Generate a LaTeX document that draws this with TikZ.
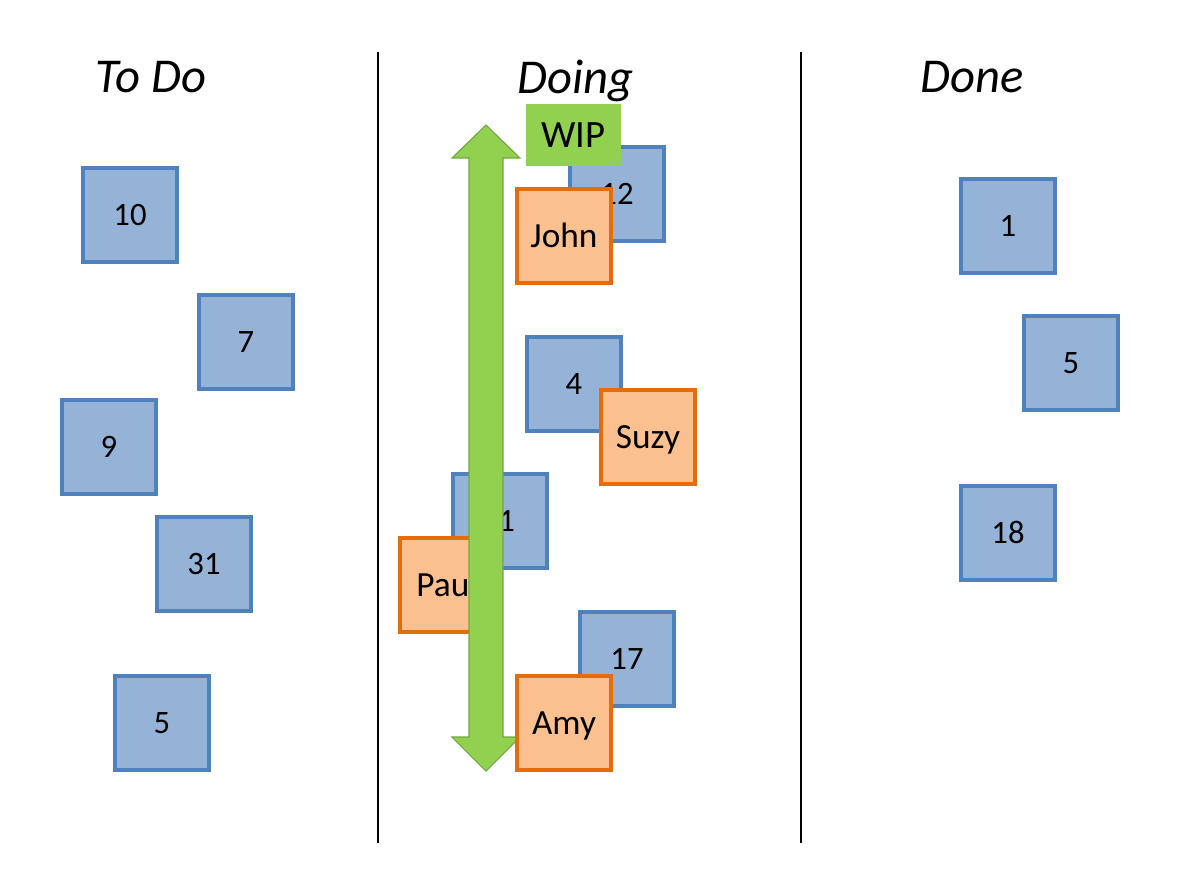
\documentclass[tikz,border=0pt]{standalone}
\usepackage{fontspec}
\setmainfont{Carlito}
\definecolor{taskfill}{HTML}{95B3D7}
\definecolor{taskline}{HTML}{4F81BD}
\definecolor{personfill}{HTML}{FAC090}
\definecolor{personline}{HTML}{E46C0A}
\definecolor{wipgreen}{HTML}{92D050}
\definecolor{wipline}{HTML}{71A840}
\tikzset{
  card/.style={line width=2.3pt, minimum size=70.5pt, inner sep=0pt, text depth=0pt},
  task/.style={card, draw=taskline, fill=taskfill, text height=15.8pt, font=\fontsize{24.5}{28}\selectfont},
  person/.style={card, draw=personline, fill=personfill, text height=17pt, font=\fontsize{26.5}{30}\selectfont},
  header/.style={font=\fontsize{36.5}{42}\selectfont\itshape, text height=23.5pt, text depth=0pt},
  divider/.style={line width=2.2pt, black},
  wiplabel/.style={fill=wipgreen, minimum width=71pt, minimum height=46.5pt, inner sep=0pt, text height=18.7pt, text depth=0pt, font=\fontsize{29}{34}\selectfont},
  wiparrow/.style={fill=wipgreen, draw=wipline, line width=0.8pt}
}
\begin{document}
\begin{tikzpicture}[x=0.75pt, y=-0.75pt]
\useasboundingbox (0,0) rectangle (1178,869);
% dividers
\coordinate (d1top) at (378,52);
\coordinate (d1bot) at (378,843);
\coordinate (d2top) at (801,52);
\coordinate (d2bot) at (801,843);
\draw[divider] (d1top) -- (d1bot);
\draw[divider] (d2top) -- (d2bot);
% headers
\node[header] (htodo) at (151,77) {To Do};
\node[header] (hdoing) at (576,78) {Doing};
\node[header] (hdone) at (972,77) {Done};
% To Do
\node[task] (t10) at (130,215) {10};
\node[task] (t7) at (246,342) {7};
\node[task] (t9) at (109,447) {9};
\node[task] (t31) at (204,564) {31};
\node[task] (t5) at (162,723) {5};
% Doing tasks
\node[task] (t12) at (617,194) {12};
\node[task] (t4) at (574,384) {4};
\node[task] (t1) at (500,521) {\hspace*{10pt}1};
\node[task] (t17) at (627,659) {17};
% Done
\node[task] (d1) at (1008,226) {1};
\node[task] (d5) at (1071,363) {5};
\node[task] (d18) at (1008,533) {18};
% people behind arrow
\node[person] (paul) at (447,585) {Paul};
% WIP arrow
\draw[wiparrow] (486,125) -- (520,158) -- (503,158) -- (503,737) -- (520,737) -- (486,771)
  -- (452,737) -- (469,737) -- (469,158) -- (452,158) -- cycle;
% people in front
\node[person] (john) at (564,236) {John};
\node[person] (suzy) at (648,437) {Suzy};
\node[person] (amy) at (564,723) {Amy};
\node[wiplabel] (wip) at (573.5,135) {WIP};
\end{tikzpicture}
\end{document}
